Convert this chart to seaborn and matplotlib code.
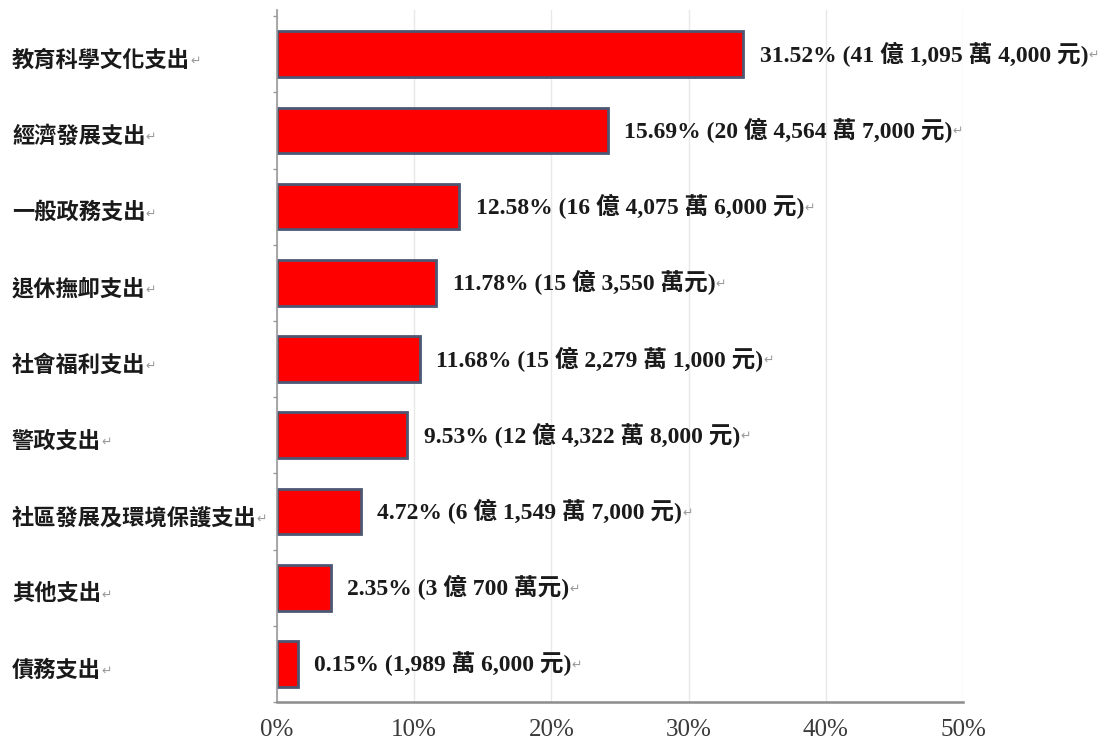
import numpy as np
import pandas as pd
import seaborn as sns
import matplotlib.pyplot as plt
import matplotlib.transforms as mtransforms

# categories (top to bottom)
categories = ['教育科學文化支出', '經濟發展支出', '一般政務支出', '退休撫卹支出',
              '社會福利支出', '警政支出', '社區發展及環境保護支出', '其他支出', '債務支出']
# share labels as printed
pct_labels = ['31.52%', '15.69%', '12.58%', '11.78%', '11.68%', '9.53%', '4.72%', '2.35%', '0.15%']
amount_labels = ['(41 億 1,095 萬 4,000 元)', '(20 億 4,564 萬 7,000 元)', '(16 億 4,075 萬 6,000 元)',
                 '(15 億 3,550 萬元)', '(15 億 2,279 萬 1,000 元)', '(12 億 4,322 萬 8,000 元)',
                 '(6 億 1,549 萬 7,000 元)', '(3 億 700 萬元)', '(1,989 萬 6,000 元)']
# bar lengths as drawn in the picture (percent on the axis)
bar_len = [34.0, 24.1, 13.3, 11.6, 10.4, 9.5, 6.1, 3.9, 1.5]
xticks = [0, 10, 20, 30, 40, 50]

df = pd.DataFrame({'item': categories, 'len': bar_len})

sns.set_theme(style='white')
plt.rcParams['font.family'] = ['Noto Sans CJK TC', 'DejaVu Sans']

fig = plt.figure(figsize=(11.16, 7.42), dpi=100)
ax = fig.add_axes([277 / 1116, 40 / 742, 686 / 1116, 692 / 742])

sns.barplot(data=df, y='item', x='len', orient='h', color='#ff0000',
            saturation=1, edgecolor='#4d5773', linewidth=2, width=0.6, ax=ax)

ax.set_xlim(0, 50)
ax.set_ylim(8.41, -0.58)
ax.set_xticks(xticks)
ax.set_xticklabels([f'{t}%' for t in xticks], family=['Liberation Serif', 'DejaVu Sans'],
                   fontsize=18, color='#3a3a3a')
ax.tick_params(axis='x', length=0, pad=12)
ax.set_yticks([])
ax.set_yticks(np.arange(-0.5, 9, 1), minor=True)
ax.tick_params(axis='y', which='minor', length=3, color='#999999', left=True)
ax.set_xlabel('')
ax.set_ylabel('')

ax.xaxis.grid(True, color='#e8e8e8', linewidth=1)
ax.set_axisbelow(True)
for s in ['top', 'right']:
    ax.spines[s].set_visible(False)
ax.spines['left'].set_color('#9a9a9a')
ax.spines['left'].set_linewidth(1.2)
ax.spines['bottom'].set_color('#8c8c8c')
ax.spines['bottom'].set_linewidth(1.8)

mark_font = ['DejaVu Sans']

# category labels, left aligned near the figure edge
trans = mtransforms.blended_transform_factory(fig.transFigure, ax.transData)
for i, name in enumerate(categories):
    t = ax.text(12 / 1116, i + 0.08, name, transform=trans, ha='left', va='center',
                fontsize=16, fontweight='bold', color='#1a1a1a', clip_on=False)
    ax.annotate('↵', xy=(1, 0.45), xycoords=t, ha='left', va='center',
                fontsize=9, color='#9a9a9a', family=mark_font)

# value labels
for i in range(len(categories)):
    t = ax.annotate(f'{pct_labels[i]} {amount_labels[i]}', xy=(bar_len[i], i),
                    xytext=(12, 0), textcoords='offset points', ha='left', va='center',
                    fontsize=17, fontweight='bold', color='#1a1a1a',
                    family=['Liberation Serif', 'Noto Sans CJK TC'], annotation_clip=False)
    ax.annotate('↵', xy=(1, 0.45), xycoords=t, ha='left', va='center',
                fontsize=9, color='#9a9a9a', family=mark_font)

fig.savefig('out.png', dpi=100)
